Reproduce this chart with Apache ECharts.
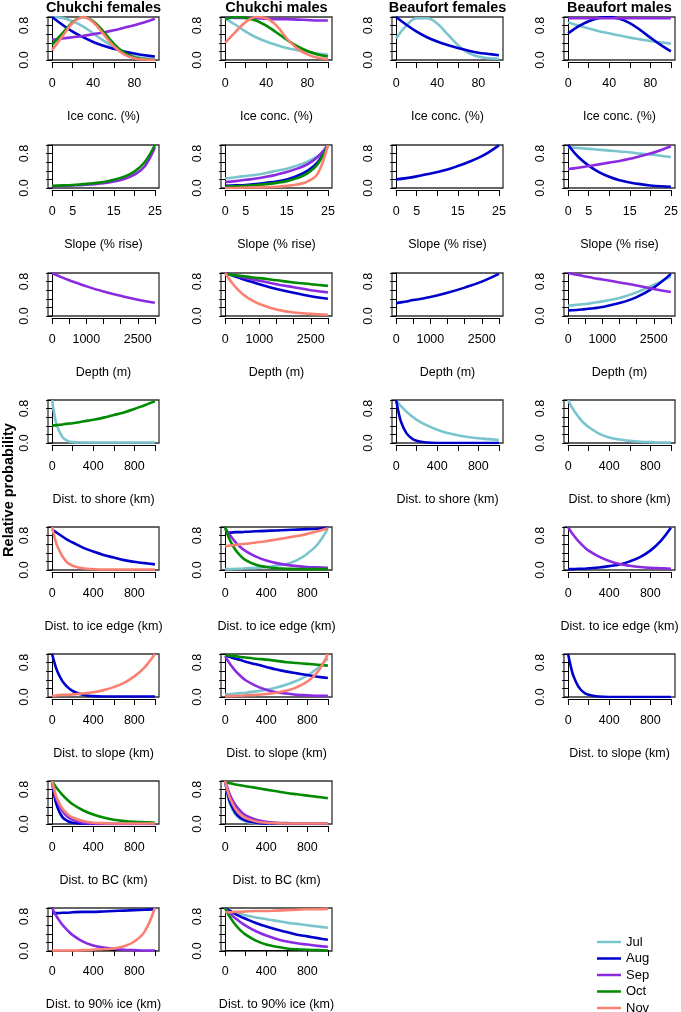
<!DOCTYPE html>
<html>
<head>
<meta charset="utf-8">
<script src="https://cdn.jsdelivr.net/npm/echarts@6/dist/echarts.min.js"></script>
<style>
html,body{margin:0;padding:0;background:#fff;}
#chart{width:681px;height:1012px;}
</style>
</head>
<body>
<div id="chart"></div>
<script>
// ---------- Data ----------
const MONTHS = ['Jul','Aug','Sep','Oct','Nov'];
const MONTH_COLORS = {Jul:'#7AC5CD', Aug:'#0000CD', Sep:'#8A2BE2', Oct:'#008B00', Nov:'#FA8072'};
const COLUMN_TITLES = ['Chukchi females','Chukchi males','Beaufort females','Beaufort males'];
const Y_LABEL = 'Relative probability';

// x sample positions
const X_ICE   = [0,10,20,30,40,50,60,70,80,90,100];
const X_SLOPE = [0,2.5,5,7.5,10,12.5,15,17.5,20,22.5,25];
const X_DEPTH = [0,250,500,750,1000,1500,2000,2500,3000];
const X_DIST  = [0,25,50,100,150,200,300,400,500,600,700,800,900,1000];

// tick labels shown on each x axis
const ICE_LABELS   = [0,40,80];
const SLOPE_LABELS = [0,5,15,25];
const DEPTH_LABELS = [0,1000,2500];
const DIST_LABELS  = [0,400,800];
const Y_LABELS     = ['0.0','0.8'];

// Ice concentration
const iceCF_Jul = [1.0,0.98,0.9,0.78,0.62,0.45,0.3,0.17,0.09,0.04,0.02];
const iceCF_Aug = [1.0,0.82,0.66,0.53,0.42,0.33,0.26,0.2,0.15,0.11,0.08];
const iceCF_Sep = [0.47,0.5,0.53,0.56,0.6,0.64,0.69,0.75,0.81,0.88,0.96];
const iceCF_Oct = [0.36,0.62,0.88,1.0,0.9,0.66,0.38,0.17,0.06,0.02,0.0];
const iceCF_Nov = [0.23,0.55,0.86,1.0,0.88,0.6,0.32,0.13,0.04,0.01,0.0];
const iceCM_Jul = [0.97,0.82,0.66,0.53,0.43,0.35,0.28,0.23,0.19,0.15,0.12];
const iceCM_Sep = [0.99,0.98,0.98,0.97,0.96,0.95,0.95,0.94,0.93,0.92,0.92];
const iceCM_Oct = [0.95,1.0,0.98,0.92,0.8,0.64,0.47,0.32,0.21,0.13,0.08];
const iceCM_Nov = [0.4,0.65,0.88,1.0,0.97,0.8,0.5,0.27,0.13,0.05,0.02];
const iceBF_Jul = [0.5,0.8,0.97,0.97,0.85,0.6,0.35,0.17,0.08,0.04,0.03];
const iceBF_Aug = [1.0,0.82,0.66,0.53,0.43,0.35,0.28,0.22,0.17,0.14,0.11];
const iceBM_Jul = [0.88,0.8,0.73,0.67,0.62,0.57,0.52,0.48,0.44,0.41,0.38];
const iceBM_Aug = [0.62,0.78,0.9,0.98,1.0,0.96,0.86,0.7,0.52,0.35,0.2];
const iceBM_Sep = [0.97,0.97,0.97,0.97,0.97,0.97,0.97,0.97,0.97,0.97,0.97];

// Slope
const slopeCF_Sep = [0.04,0.05,0.06,0.07,0.09,0.11,0.15,0.21,0.31,0.5,0.95];
const slopeCF_Oct = [0.05,0.06,0.07,0.09,0.11,0.14,0.19,0.26,0.38,0.6,1.0];
const slopeCM_Jul = [0.22,0.25,0.28,0.31,0.35,0.4,0.45,0.52,0.61,0.74,0.95];
const slopeCM_Aug = [0.05,0.06,0.07,0.09,0.12,0.15,0.2,0.28,0.4,0.6,1.0];
const slopeCM_Sep = [0.14,0.16,0.19,0.22,0.26,0.31,0.37,0.45,0.55,0.72,1.0];
const slopeCM_Oct = [0.03,0.04,0.05,0.07,0.09,0.12,0.16,0.23,0.34,0.55,1.0];
const slopeCM_Nov = [0.0,0.0,0.01,0.01,0.02,0.03,0.05,0.08,0.15,0.33,1.0];
const slopeBF_Aug = [0.2,0.23,0.27,0.32,0.37,0.43,0.51,0.6,0.7,0.83,0.99];
const slopeBM_Jul = [0.95,0.93,0.91,0.89,0.87,0.85,0.83,0.8,0.78,0.75,0.72];
const slopeBM_Aug = [1.0,0.72,0.52,0.37,0.26,0.18,0.13,0.09,0.06,0.04,0.03];
const slopeBM_Sep = [0.44,0.47,0.51,0.55,0.59,0.63,0.68,0.74,0.8,0.88,0.97];

// Depth
const depthCF_Sep = [1.0,0.91,0.83,0.76,0.69,0.57,0.47,0.38,0.31];
const depthCM_Aug = [1.0,0.93,0.86,0.8,0.74,0.63,0.54,0.46,0.4];
const depthCM_Sep = [1.0,0.95,0.9,0.86,0.82,0.74,0.67,0.6,0.55];
const depthCM_Oct = [0.98,0.95,0.93,0.9,0.88,0.83,0.78,0.74,0.7];
const depthCM_Nov = [1.0,0.72,0.52,0.38,0.28,0.15,0.08,0.05,0.03];
const depthBF_Aug = [0.3,0.33,0.37,0.4,0.44,0.54,0.66,0.8,0.98];
const depthBM_Jul = [0.24,0.26,0.28,0.31,0.34,0.42,0.55,0.72,0.92];
const depthBM_Aug = [0.13,0.14,0.16,0.18,0.21,0.3,0.44,0.66,0.98];
const depthBM_Sep = [1.0,0.96,0.92,0.88,0.85,0.78,0.71,0.63,0.56];

// Distance to shore
const shoreCF_Jul = [1.0,0.62,0.38,0.14,0.05,0.02,0.01,0.01,0.01,0.01,0.01,0.01,0.01,0.01];
const shoreCF_Oct = [0.41,0.41,0.42,0.43,0.45,0.46,0.5,0.54,0.59,0.65,0.71,0.79,0.88,0.97];
const shoreBF_Jul = [1.0,0.92,0.85,0.73,0.63,0.54,0.41,0.31,0.23,0.18,0.14,0.11,0.09,0.07];
const shoreBF_Aug = [1.0,0.7,0.48,0.23,0.11,0.05,0.01,0,0,0,0,0,0,0];
const shoreBM_Jul = [1.0,0.88,0.78,0.61,0.47,0.37,0.22,0.13,0.08,0.05,0.03,0.02,0.01,0.01];

// Distance to ice edge
const edgeCF_Aug = [0.95,0.9,0.86,0.78,0.7,0.64,0.52,0.43,0.35,0.29,0.23,0.19,0.16,0.13];
const edgeCF_Nov = [1.0,0.75,0.56,0.32,0.17,0.1,0.04,0.02,0.01,0.01,0.01,0.01,0.01,0.01];
const edgeCM_Jul = [0.02,0.02,0.02,0.03,0.03,0.04,0.05,0.07,0.1,0.14,0.23,0.38,0.6,0.97];
const edgeCM_Aug = [0.87,0.87,0.87,0.88,0.88,0.89,0.9,0.91,0.92,0.93,0.94,0.95,0.96,0.98];
const edgeCM_Sep = [0.97,0.88,0.8,0.65,0.53,0.44,0.31,0.22,0.16,0.12,0.09,0.07,0.06,0.05];
const edgeCM_Oct = [1.0,0.82,0.68,0.47,0.33,0.23,0.12,0.07,0.04,0.03,0.02,0.02,0.02,0.02];
const edgeCM_Nov = [0.55,0.56,0.57,0.58,0.6,0.61,0.64,0.67,0.71,0.75,0.79,0.84,0.9,0.97];
const edgeBM_Aug = [0.02,0.02,0.02,0.03,0.03,0.04,0.06,0.09,0.13,0.2,0.3,0.45,0.67,0.98];
const edgeBM_Sep = [1.0,0.9,0.82,0.67,0.55,0.45,0.31,0.21,0.14,0.1,0.07,0.05,0.04,0.03];

// Distance to slope
const slpdCF_Aug = [1.0,0.78,0.6,0.37,0.23,0.14,0.05,0.02,0.01,0.01,0.01,0.01,0.01,0.01];
const slpdCF_Nov = [0.03,0.03,0.04,0.05,0.05,0.06,0.08,0.11,0.16,0.23,0.33,0.48,0.69,1.0];
const slpdCM_Jul = [0.06,0.06,0.07,0.08,0.09,0.1,0.13,0.17,0.22,0.29,0.38,0.5,0.67,0.9];
const slpdCM_Aug = [0.97,0.95,0.93,0.89,0.86,0.82,0.76,0.7,0.64,0.59,0.55,0.51,0.47,0.44];
const slpdCM_Sep = [0.95,0.85,0.76,0.61,0.49,0.39,0.26,0.17,0.11,0.08,0.05,0.04,0.03,0.03];
const slpdCM_Oct = [0.98,0.97,0.96,0.95,0.93,0.92,0.89,0.87,0.84,0.81,0.79,0.77,0.75,0.73];
const slpdCM_Nov = [0.02,0.02,0.02,0.03,0.03,0.04,0.05,0.07,0.1,0.15,0.23,0.36,0.58,1.0];
const slpdBM_Aug = [1.0,0.72,0.5,0.24,0.11,0.05,0.01,0,0,0,0,0,0,0];

// Distance to BC
const bcCF_Aug = [1.0,0.62,0.4,0.16,0.07,0.03,0.01,0,0,0,0,0,0,0];
const bcCF_Sep = [1.0,0.72,0.53,0.3,0.17,0.1,0.03,0.01,0,0,0,0,0,0];
const bcCF_Oct = [1.0,0.9,0.82,0.68,0.56,0.46,0.32,0.22,0.15,0.1,0.07,0.05,0.04,0.03];
const bcCF_Nov = [1.0,0.76,0.58,0.36,0.23,0.15,0.07,0.03,0.02,0.01,0.01,0.01,0.01,0.01];
const bcCM_Jul = [1.0,0.66,0.45,0.22,0.11,0.06,0.02,0.01,0,0,0,0,0,0];
const bcCM_Aug = [1.0,0.7,0.5,0.26,0.14,0.08,0.03,0.01,0.01,0,0,0,0,0];
const bcCM_Sep = [1.0,0.82,0.66,0.44,0.3,0.2,0.1,0.05,0.03,0.02,0.01,0.01,0.01,0.01];
const bcCM_Oct = [0.97,0.96,0.95,0.92,0.9,0.88,0.84,0.8,0.76,0.72,0.69,0.66,0.63,0.6];
const bcCM_Nov = [1.0,0.76,0.58,0.35,0.22,0.14,0.06,0.03,0.02,0.01,0.01,0.01,0.01,0.01];

// Distance to 90% ice
const ice90CF_Aug = [0.88,0.88,0.88,0.89,0.89,0.9,0.91,0.91,0.92,0.93,0.94,0.95,0.96,0.97];
const ice90CF_Sep = [1.0,0.88,0.78,0.61,0.48,0.37,0.22,0.13,0.08,0.05,0.03,0.02,0.01,0.01];
const ice90CF_Nov = [0.01,0.01,0.01,0.01,0.01,0.01,0.02,0.03,0.04,0.06,0.11,0.22,0.45,1.0];
const ice90CM_Jul = [0.95,0.93,0.92,0.89,0.86,0.83,0.78,0.74,0.7,0.66,0.63,0.6,0.57,0.54];
const ice90CM_Aug = [1.0,0.96,0.93,0.86,0.8,0.75,0.65,0.57,0.5,0.44,0.38,0.34,0.3,0.26];
const ice90CM_Sep = [1.0,0.93,0.87,0.76,0.67,0.59,0.46,0.36,0.28,0.22,0.18,0.15,0.12,0.1];
const ice90CM_Oct = [1.0,0.88,0.78,0.61,0.48,0.38,0.24,0.15,0.1,0.06,0.04,0.03,0.02,0.01];
const ice90CM_Nov = [0.9,0.9,0.9,0.91,0.91,0.92,0.93,0.93,0.94,0.95,0.96,0.97,0.97,0.98];

// ---------- Axis types ----------
const AXES = {
  ice:   {x: X_ICE,   min:0, max:100,  interval:20,  labels: ICE_LABELS},
  slope: {x: X_SLOPE, min:0, max:25,   interval:5,   labels: SLOPE_LABELS},
  depth: {x: X_DEPTH, min:0, max:3000, interval:500, labels: DEPTH_LABELS},
  dist:  {x: X_DIST,  min:0, max:1000, interval:200, labels: DIST_LABELS}
};

// ---------- Panels ----------
const PANELS = [
  {r:0,c:0,ax:'ice',name:'Ice conc. (%)',s:{Jul:iceCF_Jul,Aug:iceCF_Aug,Sep:iceCF_Sep,Oct:iceCF_Oct,Nov:iceCF_Nov}},
  {r:0,c:1,ax:'ice',name:'Ice conc. (%)',s:{Jul:iceCM_Jul,Sep:iceCM_Sep,Oct:iceCM_Oct,Nov:iceCM_Nov}},
  {r:0,c:2,ax:'ice',name:'Ice conc. (%)',s:{Jul:iceBF_Jul,Aug:iceBF_Aug}},
  {r:0,c:3,ax:'ice',name:'Ice conc. (%)',s:{Jul:iceBM_Jul,Aug:iceBM_Aug,Sep:iceBM_Sep}},
  {r:1,c:0,ax:'slope',name:'Slope (% rise)',s:{Sep:slopeCF_Sep,Oct:slopeCF_Oct}},
  {r:1,c:1,ax:'slope',name:'Slope (% rise)',s:{Jul:slopeCM_Jul,Aug:slopeCM_Aug,Sep:slopeCM_Sep,Oct:slopeCM_Oct,Nov:slopeCM_Nov}},
  {r:1,c:2,ax:'slope',name:'Slope (% rise)',s:{Aug:slopeBF_Aug}},
  {r:1,c:3,ax:'slope',name:'Slope (% rise)',s:{Jul:slopeBM_Jul,Aug:slopeBM_Aug,Sep:slopeBM_Sep}},
  {r:2,c:0,ax:'depth',name:'Depth (m)',s:{Sep:depthCF_Sep}},
  {r:2,c:1,ax:'depth',name:'Depth (m)',s:{Aug:depthCM_Aug,Sep:depthCM_Sep,Oct:depthCM_Oct,Nov:depthCM_Nov}},
  {r:2,c:2,ax:'depth',name:'Depth (m)',s:{Aug:depthBF_Aug}},
  {r:2,c:3,ax:'depth',name:'Depth (m)',s:{Jul:depthBM_Jul,Aug:depthBM_Aug,Sep:depthBM_Sep}},
  {r:3,c:0,ax:'dist',name:'Dist. to shore (km)',s:{Jul:shoreCF_Jul,Oct:shoreCF_Oct}},
  {r:3,c:2,ax:'dist',name:'Dist. to shore (km)',s:{Jul:shoreBF_Jul,Aug:shoreBF_Aug}},
  {r:3,c:3,ax:'dist',name:'Dist. to shore (km)',s:{Jul:shoreBM_Jul}},
  {r:4,c:0,ax:'dist',name:'Dist. to ice edge (km)',s:{Aug:edgeCF_Aug,Nov:edgeCF_Nov}},
  {r:4,c:1,ax:'dist',name:'Dist. to ice edge (km)',s:{Jul:edgeCM_Jul,Aug:edgeCM_Aug,Sep:edgeCM_Sep,Oct:edgeCM_Oct,Nov:edgeCM_Nov}},
  {r:4,c:3,ax:'dist',name:'Dist. to ice edge (km)',s:{Aug:edgeBM_Aug,Sep:edgeBM_Sep}},
  {r:5,c:0,ax:'dist',name:'Dist. to slope (km)',s:{Aug:slpdCF_Aug,Nov:slpdCF_Nov}},
  {r:5,c:1,ax:'dist',name:'Dist. to slope (km)',s:{Jul:slpdCM_Jul,Aug:slpdCM_Aug,Sep:slpdCM_Sep,Oct:slpdCM_Oct,Nov:slpdCM_Nov}},
  {r:5,c:3,ax:'dist',name:'Dist. to slope (km)',s:{Aug:slpdBM_Aug}},
  {r:6,c:0,ax:'dist',name:'Dist. to BC (km)',s:{Aug:bcCF_Aug,Sep:bcCF_Sep,Oct:bcCF_Oct,Nov:bcCF_Nov}},
  {r:6,c:1,ax:'dist',name:'Dist. to BC (km)',s:{Jul:bcCM_Jul,Aug:bcCM_Aug,Sep:bcCM_Sep,Oct:bcCM_Oct,Nov:bcCM_Nov}},
  {r:7,c:0,ax:'dist',name:'Dist. to 90% ice (km)',s:{Aug:ice90CF_Aug,Sep:ice90CF_Sep,Nov:ice90CF_Nov}},
  {r:7,c:1,ax:'dist',name:'Dist. to 90% ice (km)',s:{Jul:ice90CM_Jul,Aug:ice90CM_Aug,Sep:ice90CM_Sep,Oct:ice90CM_Oct,Nov:ice90CM_Nov}}
];

// ---------- Layout ----------
const COL_LEFT = [48, 221, 392, 564];
const ROW_TOP = [17, 145, 273, 400, 527, 654, 781, 908];
const PW = 111, PH = 43;
const FONT = '"Liberation Sans", Arial, Helvetica, sans-serif';
const FS = 12.5;

const grids = [], xAxes = [], yAxes = [], series = [];
const axisLineStyle = {color:'#000', width:1};

PANELS.forEach((p) => {
  const A = AXES[p.ax];
  const L = COL_LEFT[p.c], T = ROW_TOP[p.r];
  const span = A.max - A.min;
  const padPx = PW * 0.04 / 1.08;
  const gi = grids.length;
  // plot box
  grids.push({left:L, top:T, width:PW, height:PH, show:true, borderColor:'#333', borderWidth:1.3, backgroundColor:'rgba(0,0,0,0)'});
  xAxes.push({gridIndex:gi, type:'value', min:A.min - 0.04*span, max:A.max + 0.04*span, show:false});
  yAxes.push({gridIndex:gi, type:'value', min:0, max:1, interval:0.2, offset:2,
    axisLine:{show:true, lineStyle:axisLineStyle},
    axisTick:{show:true, length:6, lineStyle:axisLineStyle},
    splitLine:{show:false},
    axisLabel:{rotate:90, margin:15, color:'#000', fontSize:FS, fontFamily:FONT,
      formatter:(v)=> Math.abs(v)<1e-6 ? Y_LABELS[0] : (Math.abs(v-0.8)<1e-6 ? Y_LABELS[1] : '')}
  });
  // x axis drawn over the data range only
  grids.push({left:L+padPx, top:T, width:PW-2*padPx, height:PH, show:false});
  xAxes.push({gridIndex:gi+1, type:'value', min:A.min, max:A.max, interval:A.interval, offset:2,
    axisLine:{show:true, onZero:false, lineStyle:axisLineStyle},
    axisTick:{show:true, length:6, lineStyle:axisLineStyle},
    splitLine:{show:false},
    axisLabel:{margin:15, color:'#000', fontSize:FS, fontFamily:FONT, interval:0, showMinLabel:true, showMaxLabel:true,
      formatter:(v)=> A.labels.some(l=>Math.abs(l-v)<1e-6) ? String(v) : ''},
    name:p.name, nameLocation:'middle', nameGap:48,
    nameTextStyle:{color:'#000', fontSize:FS, fontFamily:FONT}
  });
  yAxes.push({gridIndex:gi+1, type:'value', min:0, max:1, show:false});
  MONTHS.forEach((m) => {
    const ys = p.s[m];
    if (!ys) return;
    series.push({
      name:m, type:'line', xAxisIndex:gi, yAxisIndex:gi,
      data: A.x.map((x,k)=>[x, ys[k]]),
      smooth:0.4, symbol:'none', silent:true,
      lineStyle:{color:MONTH_COLORS[m], width:2.6},
      itemStyle:{color:MONTH_COLORS[m]}
    });
  });
});

const graphics = COLUMN_TITLES.map((t,i)=>({
  type:'text', x: COL_LEFT[i] + PW/2, y: 8,
  style:{text:t, font:'bold 14.5px ' + FONT, fill:'#000', textAlign:'center', textVerticalAlign:'middle'}
}));
graphics.push({
  type:'text', x: 9, y: 490, rotation: Math.PI/2,
  style:{text:Y_LABEL, font:'bold 14.5px ' + FONT, fill:'#000', textAlign:'center', textVerticalAlign:'middle'}
});

const chart = echarts.init(document.getElementById('chart'), null, {renderer:'canvas'});
chart.setOption({
  animation:false,
  backgroundColor:'#fff',
  grid: grids, xAxis: xAxes, yAxis: yAxes, series: series,
  graphic: graphics,
  legend:{
    data: MONTHS, orient:'vertical', left:597, top:935, height:100, padding:0,
    icon:'rect', itemWidth:24, itemHeight:2.5, itemGap:2.5,
    textStyle:{color:'#000', fontSize:13, fontFamily:FONT, lineHeight:14},
    selectedMode:false
  }
});
</script>
</body>
</html>
